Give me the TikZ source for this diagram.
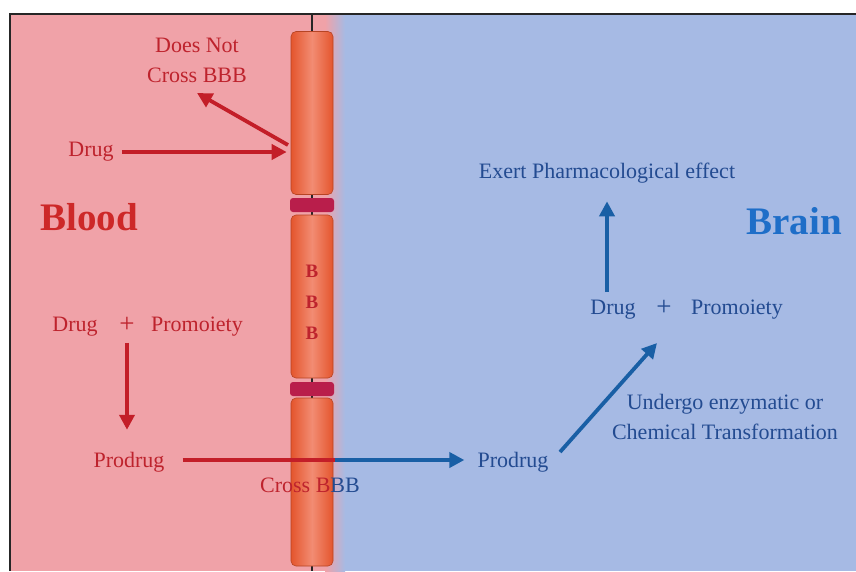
\documentclass[tikz,border=0pt]{standalone}
\usepackage{fontspec}
\setmainfont{Liberation Serif}
\usetikzlibrary{arrows.meta}
\definecolor{redbg}{RGB}{240,162,168}
\definecolor{bluebg}{RGB}{166,186,228}
\definecolor{redtxt}{RGB}{190,35,45}
\definecolor{bluetxt}{RGB}{35,75,145}
\definecolor{bloodc}{RGB}{205,40,40}
\definecolor{brainc}{RGB}{30,110,200}
\definecolor{redarr}{RGB}{195,30,40}
\definecolor{bluearr}{RGB}{25,95,165}
\definecolor{segedge}{RGB}{228,85,45}
\definecolor{segmid}{RGB}{242,140,115}
\definecolor{bandc}{RGB}{185,30,75}
\begin{document}
\begin{tikzpicture}[x=1pt,y=-1pt,
  lbl/.style={inner sep=0pt,font=\fontsize{22}{30}\selectfont},
  rlbl/.style={lbl,text=redtxt},
  blbl/.style={lbl,text=bluetxt},
  plusl/.style={inner sep=0pt,font=\fontsize{27}{30}\selectfont},
  big/.style={inner sep=0pt,font=\fontsize{39}{40}\selectfont\bfseries},
  rarr/.style={draw=redarr,line width=3.8pt,-{Triangle[length=15pt,width=15pt]}},
  barr/.style={draw=bluearr,line width=3.8pt,-{Triangle[length=15pt,width=15pt]}},
  seg/.style={rectangle,rounded corners=5pt,minimum width=42pt,draw=segedge!80!black,line width=0.6pt,left color=segedge,right color=segedge,middle color=segmid,inner sep=0pt},
  band/.style={rectangle,rounded corners=3pt,minimum width=44pt,minimum height=14pt,fill=bandc,inner sep=0pt}]
\useasboundingbox (0,0) rectangle (856,571);
% backgrounds
\fill[redbg] (10,14) rectangle (335,571);
\fill[bluebg] (335,14) rectangle (856,571);
\shade[left color=redbg,right color=bluebg] (325,14) rectangle (345,571);
\draw[line width=1.2pt,black!85] (10,571) -- (10,14) -- (856,14);
% BBB column
\draw[line width=1.3pt,black!85] (312,14) -- (312,571);
\node[seg,minimum height=163pt] (seg1) at (312,113) {};
\node[band] (band1) at (312,205) {};
\node[seg,minimum height=163pt] (seg2) at (312,296.5) {};
\node[band] (band2) at (312,389) {};
\node[seg,minimum height=168pt] (seg3) at (312,482) {};
\node[inner sep=0pt,align=center,text=redtxt,font=\fontsize{19}{31}\selectfont\bfseries] (bbb) at (312,302) {B\\B\\B};
% Blood side
\node[big,text=bloodc] (blood) at (89,217) {Blood};
\node[rlbl,align=center] (dn) at (197,60) {Does Not\\Cross BBB};
\node[rlbl] (drug1) at (91,152) {Drug};
\coordinate (dnstart) at (288,145);
\coordinate (dntip) at (197,93);
\draw[rarr,shorten <=8pt,shorten >=4pt] (drug1.east) -- (drug1.east -| seg1.west);
\draw[rarr] (dnstart) -- (dntip);
\node[rlbl] (drug2) at (75,327) {Drug};
\node[plusl,text=redtxt] (plus2) at (127,325) {+};
\node[rlbl] (prom2) at (197,327) {Promoiety};
\node[rlbl] (prod1) at (129,462) {Prodrug};
\draw[rarr,shorten <=10pt,shorten >=22pt] (plus2.south) -- (plus2.south |- prod1.north);
% crossing
\node[blbl] (prod2) at (513,462) {Prodrug};
\coordinate (mid) at (335,460);
\draw[draw=redarr,line width=3.8pt,shorten <=18pt] (prod1.east |- mid) -- (mid);
\draw[barr,shorten >=13pt] (mid) -- (prod2.west |- mid);
\node[lbl] (cross) at (310,485) {\textcolor{redtxt}{Cross B}\textcolor{bluetxt}{BB}};
% Brain side
\node[big,text=brainc] (brain) at (794,221) {Brain};
\node[blbl] (exert) at (607,173) {Exert Pharmacological effect};
\node[blbl] (drug3) at (613,310) {Drug};
\node[plusl,text=bluetxt] (plus3) at (664,308) {+};
\node[blbl] (prom3) at (737,310) {Promoiety};
\node[blbl,align=center] (undergo) at (725,417) {Undergo enzymatic or\\Chemical Transformation};
\draw[barr,shorten <=8pt,shorten >=18pt] (exert.south |- drug3.north) -- (exert.south);
\coordinate (dgA) at (560,452);
\coordinate (dgB) at (657,343);
\draw[barr] (dgA) -- (dgB);
\end{tikzpicture}
\end{document}
